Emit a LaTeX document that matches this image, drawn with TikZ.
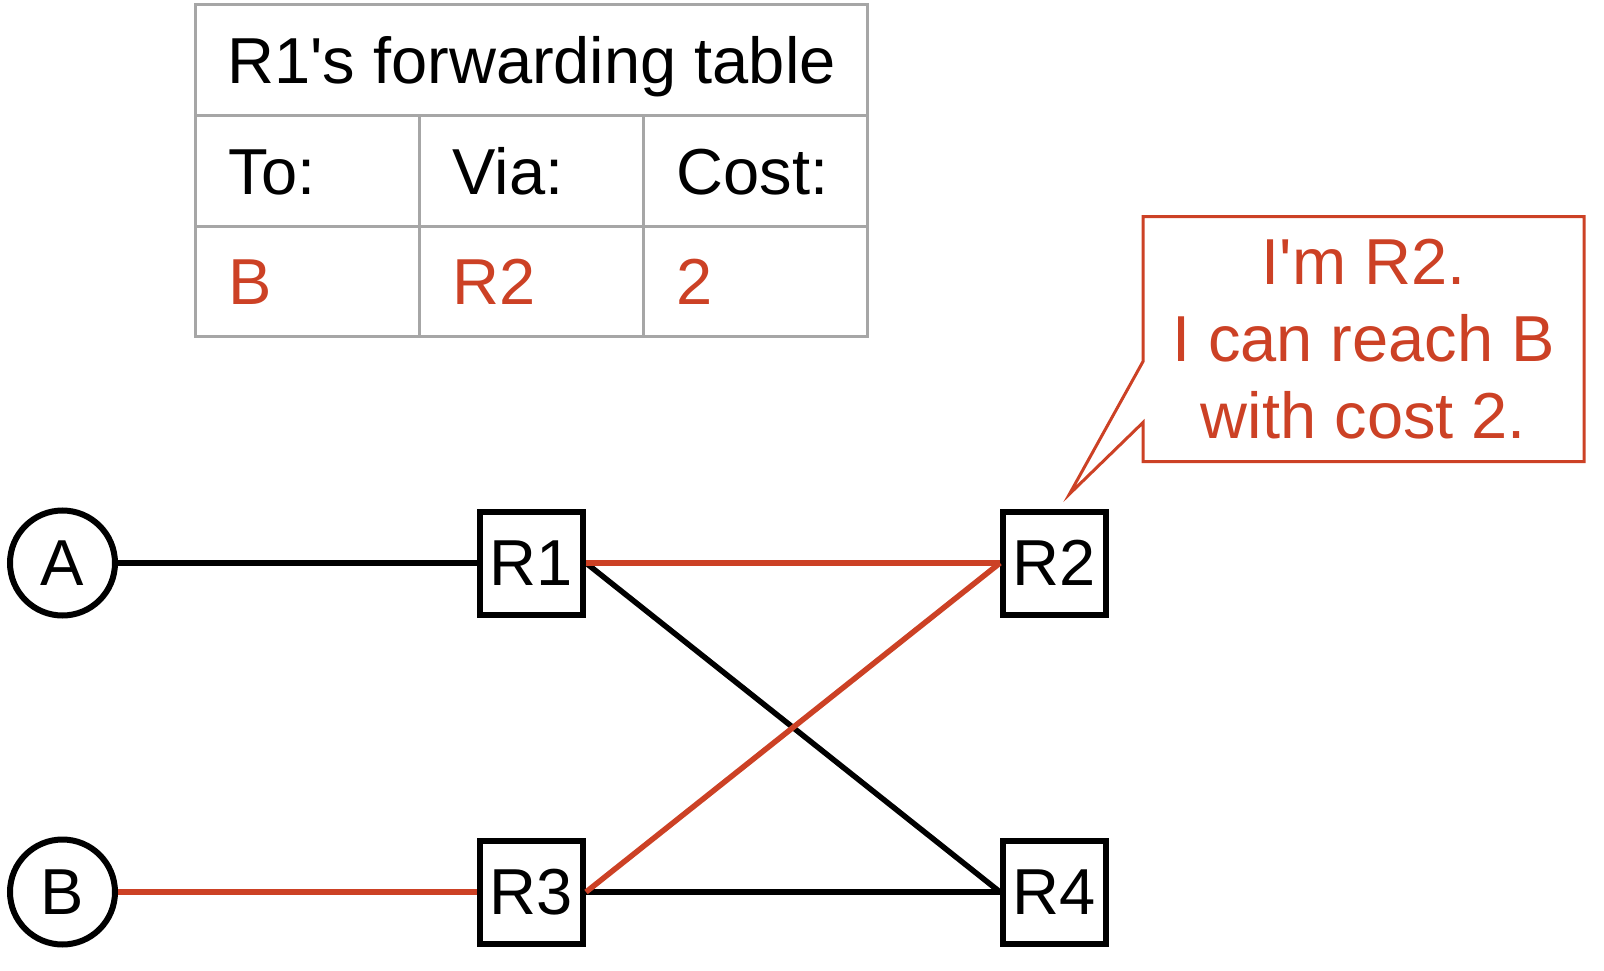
\documentclass[tikz,border=0pt]{standalone}
\usepackage{fontspec}
\newfontfamily\labelfont{Liberation Sans}
\usetikzlibrary{positioning}
\definecolor{msgred}{HTML}{CC4125}
\definecolor{tblgray}{HTML}{A6A6A6}
\newcommand{\bigtext}{\labelfont\fontsize{65}{77}\selectfont}
\tikzstyle{host} = [circle, draw=black, line width=6pt, minimum size=105pt, inner sep=0pt, font=\bigtext]
\tikzstyle{router} = [rectangle, draw=black, line width=6pt, minimum size=103pt, inner sep=0pt, font=\bigtext]
\tikzstyle{cell} = [rectangle, draw=tblgray, line width=3pt, outer sep=0pt, minimum height=110.5pt, text height=47pt, text depth=0pt, font=\bigtext]
\tikzstyle{lcell} = [cell, inner xsep=33pt, text width=158pt, align=left]
\tikzstyle{msg} = [rectangle, outer sep=0pt, minimum width=441pt, minimum height=245pt, align=center, text=msgred, font=\bigtext]
\tikzstyle{link} = [line width=5.5pt]

\begin{document}
\begin{tikzpicture}[node distance=220pt]
\useasboundingbox (0,0) rectangle (1604pt,-971pt);

% Define nodes
\node[host] (A) at (62.5pt,-563pt) {A};
\node[router, right = 359pt of A] (R1) {R1};
\node[router, right = 414pt of R1] (R2) {R2};
\node[host, below = 218pt of A] (B)  {B};
\node[router, below = of R1]    (R3) {R3};
\node[router, below = of R2]    (R4) {R4};

% Forwarding table
\node[lcell, text=msgred, above = 172pt of R1] (via)  {R2};
\node[lcell, text=msgred, left = 0pt of via]   (to)   {B};
\node[lcell, text=msgred, right = 0pt of via]  (cost) {2};
\node[lcell, above = 0pt of to]   (hto)   {To:};
\node[lcell, above = 0pt of via]  (hvia)  {Via:};
\node[lcell, above = 0pt of cost] (hcost) {Cost:};
\node[cell, minimum width=672pt, above = 0pt of hvia] (title) {R1's forwarding table};

% Message from R2
\node[msg, above right = 47pt and 34pt of R2] (note) {I'm R2.\\I can reach B\\with cost 2.};
\coordinate (tip) at ([shift={(15pt,14.5pt)}]R2.north);
\draw[msgred, line width=3pt] (note.north west) -- (note.north east) -- (note.south east)
  -- (note.south west) -- ([yshift=-83.5pt]note.west) -- (tip) -- ([yshift=-22.5pt]note.west) -- cycle;

% Edges
\draw[link] (A) -- (R1);
\draw[link] (R1.east) -- (R4.west);
\draw[link] (R3) -- (R4);
\draw[link, msgred] (B) -- (R3);
\draw[link, msgred] (R1) -- (R2);
\draw[link, msgred] (R3.east) -- (R2.west);
\end{tikzpicture}
\end{document}
